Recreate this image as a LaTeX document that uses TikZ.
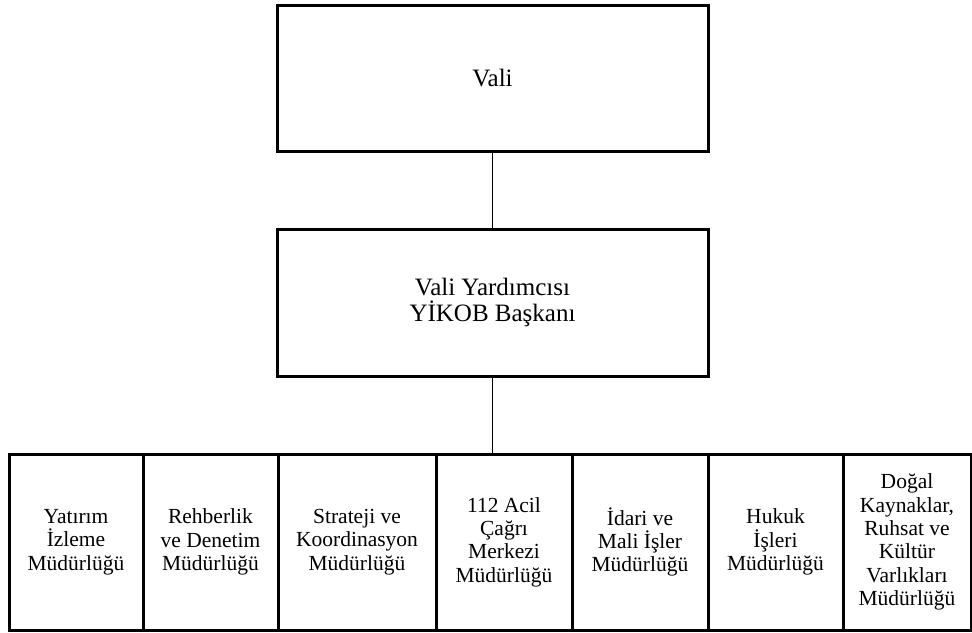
\documentclass[tikz,border=0pt]{standalone}
\usepackage{fontspec}
\setmainfont{Liberation Serif}

\begin{document}
\begin{tikzpicture}[x=1pt,y=-1pt,
    box/.style={draw,line width=3pt,align=center,inner sep=0pt,
      font=\fontsize{25}{26.7}\selectfont},
    cell/.style={box,minimum height=176pt,font=\fontsize{21.5}{23.3}\selectfont},
    link/.style={line width=1.3pt}]
  \useasboundingbox (0,0) rectangle (972,632);

  \node[box,minimum width=431pt,minimum height=146pt] (vali) at (492.5,78) {Vali};
  \node[box,minimum width=431pt,minimum height=147pt] (vy) at (492.5,302.5)
    {Vali Yardımcısı\\YİKOB Başkanı};

  % mudurlukler
  \node[cell,minimum width=134pt] (yatirim) at (76,542)    {Yatırım\\İzleme\\Müdürlüğü};
  \node[cell,minimum width=135pt] (rehber)  at (210.5,542) {Rehberlik\\ve Denetim\\Müdürlüğü};
  \node[cell,minimum width=158pt] (strateji) at (357,542)  {Strateji ve\\Koordinasyon\\Müdürlüğü};
  \node[cell,minimum width=136pt] (acil)    at (504,542)   {112 Acil\\Çağrı\\Merkezi\\Müdürlüğü};
  \node[cell,minimum width=136pt] (idari)   at (640,542)   {İdari ve\\Mali İşler\\Müdürlüğü};
  \node[cell,minimum width=135pt] (hukuk)   at (775.5,542) {Hukuk\\İşleri\\Müdürlüğü};
  \node[cell,minimum width=128pt] (dogal)   at (907,542)
    {Doğal\\Kaynaklar,\\Ruhsat ve\\Kültür\\Varlıkları\\Müdürlüğü};

  \draw[link] (vali) -- (vy);
  \draw[link] (vy.south) -- (vy.south |- acil.north);
\end{tikzpicture}
\end{document}
